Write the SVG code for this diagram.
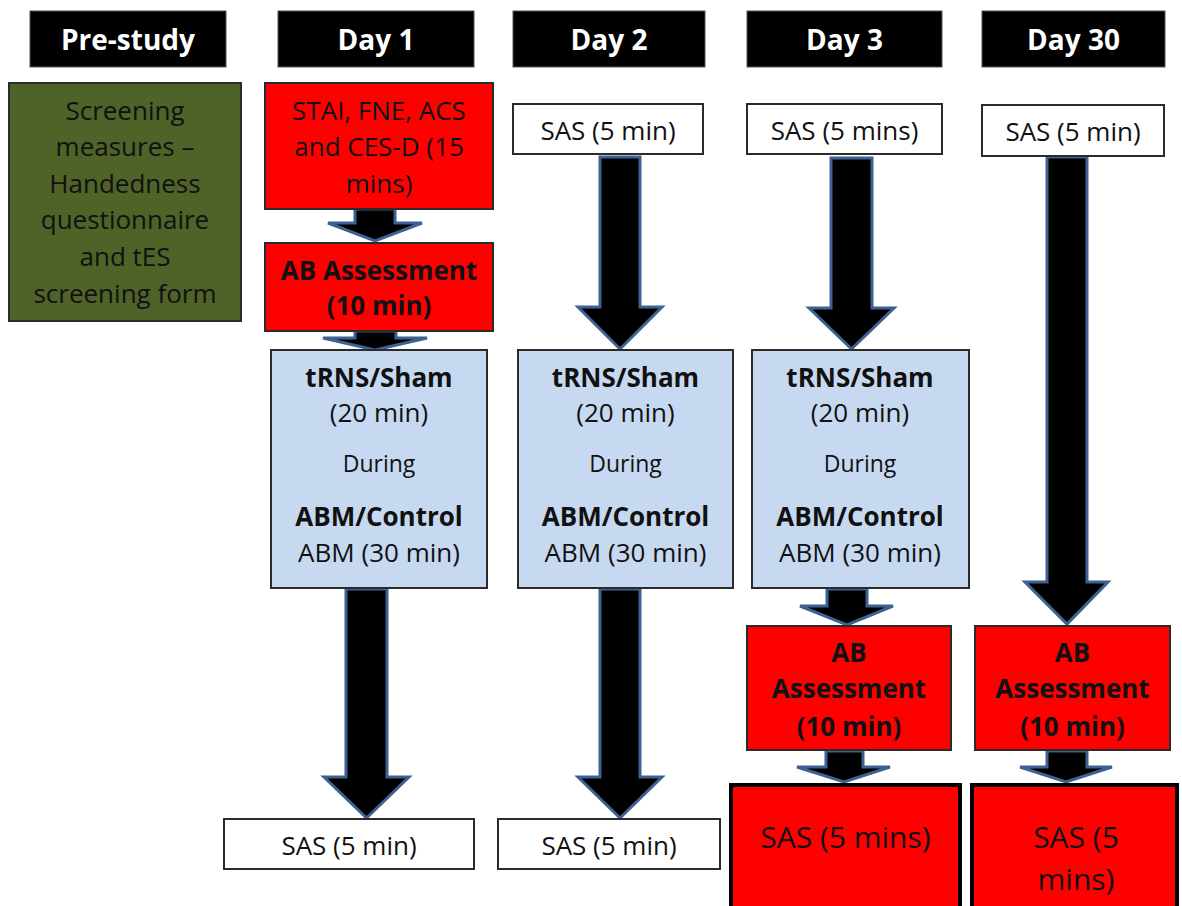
<svg xmlns="http://www.w3.org/2000/svg" width="1182" height="906" viewBox="0 0 1182 906">
<style>
text{font-family:"Open Sans","Liberation Sans",sans-serif;text-anchor:middle;dominant-baseline:central;fill:#111}
.hdr{fill:#000;stroke:#555;stroke-width:1}
.ht{fill:#fff;font-weight:bold;font-size:28px}
.t{font-size:26px}
.b{font-size:26px;font-weight:bold}
.s{font-size:23px}
.big{font-size:30px}
.green{fill:#4f6228;stroke:#2b2b2b;stroke-width:2}
.red{fill:#ff0000;stroke:#2b2b2b;stroke-width:2}
.redbig{fill:#ff0000;stroke:#000;stroke-width:4}
.blue{fill:#c6d9f1;stroke:#2b2b2b;stroke-width:2}
.white{fill:#fff;stroke:#2b2b2b;stroke-width:2}
.arr{fill:#000;stroke:#3d6191;stroke-width:3;stroke-linejoin:miter}
</style>
<rect width="1182" height="906" fill="#fff"/>
<g id="connectors">
<!-- Day 1 -->
<path class="arr" d="M355,209 H395 V223 H422 L375,241 L328,223 H355 Z"/>
<path class="arr" d="M355,331 H396 V338 H427 L375,350 L323,338 H355 Z"/>
<path class="arr" d="M346,589 H387 V777 H409 L366.5,818 L324,777 H346 Z"/>
<!-- Day 2 -->
<path class="arr" d="M600,157 H640 V307 H662 L620,349 L578,307 H600 Z"/>
<path class="arr" d="M600,589 H640 V777 H662 L620,818 L578,777 H600 Z"/>
<!-- Day 3 -->
<path class="arr" d="M831,158 H872 V308 H894 L851.5,349 L809,308 H831 Z"/>
<path class="arr" d="M827,589 H867 V606 H893 L847,625 L800,606 H827 Z"/>
<path class="arr" d="M826,751 H863 V767 H890 L844,782 L797,767 H826 Z"/>
<!-- Day 30 -->
<path class="arr" d="M1047,157 H1087 V582 H1108 L1067,624 L1025,582 H1047 Z"/>
<path class="arr" d="M1047,751 H1087 V767 H1112 L1066,782 L1020,767 H1047 Z"/>
</g>
<g id="hdr-prestudy"><rect class="hdr" x="30" y="11" width="196" height="56"/><text class="ht" x="128" y="39">Pre-study</text></g>
<g id="hdr-day1"><rect class="hdr" x="278" y="11" width="196" height="56"/><text class="ht" x="376" y="39">Day 1</text></g>
<g id="hdr-day2"><rect class="hdr" x="513" y="11" width="192" height="56"/><text class="ht" x="609" y="39">Day 2</text></g>
<g id="hdr-day3"><rect class="hdr" x="747" y="11" width="195" height="56"/><text class="ht" x="844.5" y="39">Day 3</text></g>
<g id="hdr-day30"><rect class="hdr" x="982" y="11" width="183" height="56"/><text class="ht" x="1073.5" y="39">Day 30</text></g>
<g id="screening">
<rect class="green" x="9" y="83" width="232" height="238"/>
<text class="t" x="125" y="110">Screening</text>
<text class="t" x="125" y="146">measures –</text>
<text class="t" x="125" y="183">Handedness</text>
<text class="t" x="125" y="219">questionnaire</text>
<text class="t" x="125" y="256">and tES</text>
<text class="t" x="125" y="293">screening form</text>
</g>
<g id="day1-questionnaires">
<rect class="red" x="265" y="83" width="228" height="126"/>
<text class="t" x="379" y="110">STAI, FNE, ACS</text>
<text class="t" x="379" y="146">and CES-D (15</text>
<text class="t" x="379" y="183">mins)</text>
</g>
<g id="day1-ab">
<rect class="red" x="265" y="243" width="228" height="88"/>
<text class="b" x="379" y="270">AB Assessment</text>
<text class="b" x="379" y="305">(10 min)</text>
</g>
<g id="day1-trns">
<rect class="blue" x="271" y="350" width="216" height="238"/>
<text class="b" x="379" y="377">tRNS/Sham</text>
<text class="t" x="379" y="412">(20 min)</text>
<text class="s" x="379" y="463">During</text>
<text class="b" x="379" y="516">ABM/Control</text>
<text class="t" x="379" y="552">ABM (30 min)</text>
</g>
<g id="day1-sas">
<rect class="white" x="224" y="819" width="250" height="50"/>
<text class="t" x="349" y="845">SAS (5 min)</text>
</g>
<g id="day2-sas-top">
<rect class="white" x="513" y="104" width="190" height="50"/>
<text class="t" x="608" y="130">SAS (5 min)</text>
</g>
<g id="day2-trns">
<rect class="blue" x="518" y="350" width="215" height="238"/>
<text class="b" x="625.5" y="377">tRNS/Sham</text>
<text class="t" x="625.5" y="412">(20 min)</text>
<text class="s" x="625.5" y="463">During</text>
<text class="b" x="625.5" y="516">ABM/Control</text>
<text class="t" x="625.5" y="552">ABM (30 min)</text>
</g>
<g id="day2-sas">
<rect class="white" x="498" y="819" width="222" height="50"/>
<text class="t" x="609" y="845">SAS (5 min)</text>
</g>
<g id="day3-sas-top">
<rect class="white" x="747" y="104" width="195" height="50"/>
<text class="t" x="844.5" y="130">SAS (5 mins)</text>
</g>
<g id="day3-trns">
<rect class="blue" x="752" y="350" width="217" height="238"/>
<text class="b" x="860" y="377">tRNS/Sham</text>
<text class="t" x="860" y="412">(20 min)</text>
<text class="s" x="860" y="463">During</text>
<text class="b" x="860" y="516">ABM/Control</text>
<text class="t" x="860" y="552">ABM (30 min)</text>
</g>
<g id="day3-ab">
<rect class="red" x="747" y="626" width="204" height="124"/>
<text class="b" x="849" y="652">AB</text>
<text class="b" x="849" y="688">Assessment</text>
<text class="b" x="849" y="726">(10 min)</text>
</g>
<g id="day3-sas">
<rect class="redbig" x="731" y="785" width="229" height="130"/>
<text class="big" x="845.5" y="836">SAS (5 mins)</text>
</g>
<g id="day30-sas-top">
<rect class="white" x="982" y="105" width="182" height="51"/>
<text class="t" x="1073" y="131">SAS (5 min)</text>
</g>
<g id="day30-ab">
<rect class="red" x="975" y="626" width="195" height="124"/>
<text class="b" x="1072.5" y="652">AB</text>
<text class="b" x="1072.5" y="688">Assessment</text>
<text class="b" x="1072.5" y="726">(10 min)</text>
</g>
<g id="day30-sas">
<rect class="redbig" x="972" y="785" width="205" height="130"/>
<text class="big" x="1076" y="836">SAS (5</text>
<text class="big" x="1076" y="878">mins)</text>
</g>
</svg>
